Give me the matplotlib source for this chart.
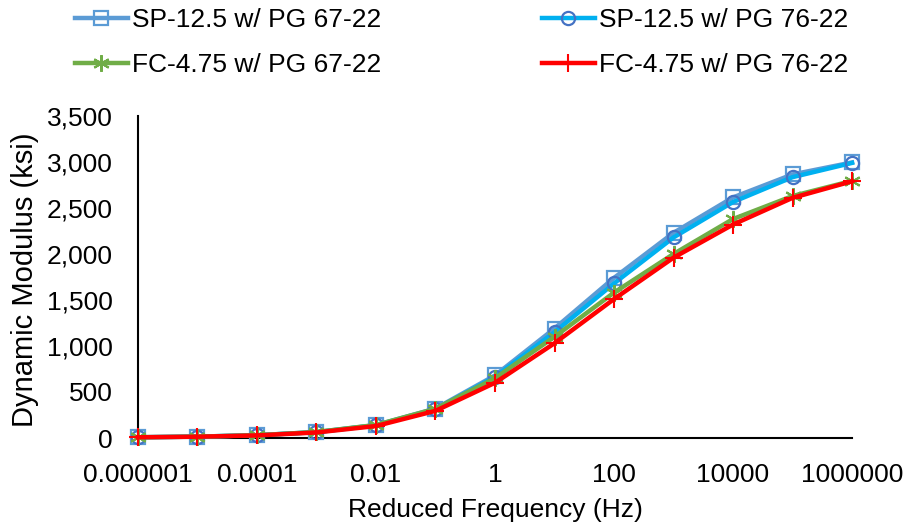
import numpy as np
import matplotlib
matplotlib.use("Agg")
import matplotlib.pyplot as plt
from matplotlib.ticker import FixedLocator, FuncFormatter

plt.rcParams["font.family"] = ["Liberation Sans", "DejaVu Sans"]

# reduced frequency (Hz), one point per decade
freq = [1e-6, 1e-5, 1e-4, 1e-3, 1e-2, 1e-1, 1, 10, 100, 1e3, 1e4, 1e5, 1e6]

sp_67 = [8, 15, 30, 65, 140, 320, 680, 1190, 1740, 2230, 2615, 2865, 2995]
sp_76 = [8, 15, 30, 63, 138, 312, 665, 1150, 1680, 2180, 2565, 2835, 2990]
fc_67 = [8, 15, 30, 65, 142, 318, 650, 1100, 1580, 2000, 2380, 2630, 2795]
fc_76 = [8, 14, 28, 60, 130, 295, 600, 1030, 1510, 1960, 2320, 2610, 2790]

xticks = [1e-6, 1e-4, 1e-2, 1, 100, 1e4, 1e6]
xtick_labels = ["0.000001", "0.0001", "0.01", "1", "100", "10000", "1000000"]

fig = plt.figure(figsize=(9.07, 5.26), dpi=100)
ax = fig.add_axes([0.1521, 0.1673, 0.7873, 0.6122])

ax.plot(freq, sp_67, color="#5B9BD5", lw=3.2, marker="s", ms=9.5,
        mfc="none", mec="#5B9BD5", mew=1.6, label="SP-12.5 w/ PG 67-22",
        clip_on=False)
ax.plot(freq, sp_76, color="#00B0F0", lw=3.2, marker="o", ms=9.5,
        mfc="none", mec="#4472C4", mew=1.6, label="SP-12.5 w/ PG 76-22",
        clip_on=False)
ax.plot(freq, fc_67, color="#70AD47", lw=3.2, marker=(6, 2, 0), ms=12,
        mec="#70AD47", mew=1.5, label="FC-4.75 w/ PG 67-22", clip_on=False)
ax.plot(freq, fc_76, color="#FF0000", lw=3.2, marker="+", ms=13,
        mec="#FF0000", mew=1.5, label="FC-4.75 w/ PG 76-22", clip_on=False)

ax.set_xscale("log")
ax.set_xlim(1e-6, 1e6)
ax.set_ylim(0, 3500)
ax.xaxis.set_major_locator(FixedLocator(xticks))
ax.xaxis.set_minor_locator(FixedLocator([]))
ax.set_xticklabels(xtick_labels)
ax.set_yticks(np.arange(0, 3501, 500))
ax.yaxis.set_major_formatter(FuncFormatter(lambda v, p: f"{int(v):,}"))

for s in ["top", "right"]:
    ax.spines[s].set_visible(False)
for s in ["left", "bottom"]:
    ax.spines[s].set_linewidth(1.5)
    ax.spines[s].set_color("black")
    ax.spines[s].set_zorder(1)
ax.tick_params(axis="both", length=0, labelsize=19, colors="black")
ax.tick_params(axis="x", pad=18)
ax.tick_params(axis="y", pad=18)

ax.set_xlabel("Reduced Frequency (Hz)", fontsize=19, labelpad=8)
ax.set_ylabel("Dynamic Modulus (ksi)", fontsize=21)
ax.yaxis.set_label_coords(-0.139, 0.49)

handles, labels = ax.get_legend_handles_labels()
order = [0, 2, 1, 3]
fig.legend([handles[i] for i in order], [labels[i] for i in order],
           ncol=2, loc="upper left", bbox_to_anchor=(0.071, 1.004),
           frameon=False, fontsize=19, handlelength=2.0, handletextpad=0.15,
           columnspacing=6.1, labelspacing=0.78, borderaxespad=0)

fig.savefig("out.png", dpi=100)
